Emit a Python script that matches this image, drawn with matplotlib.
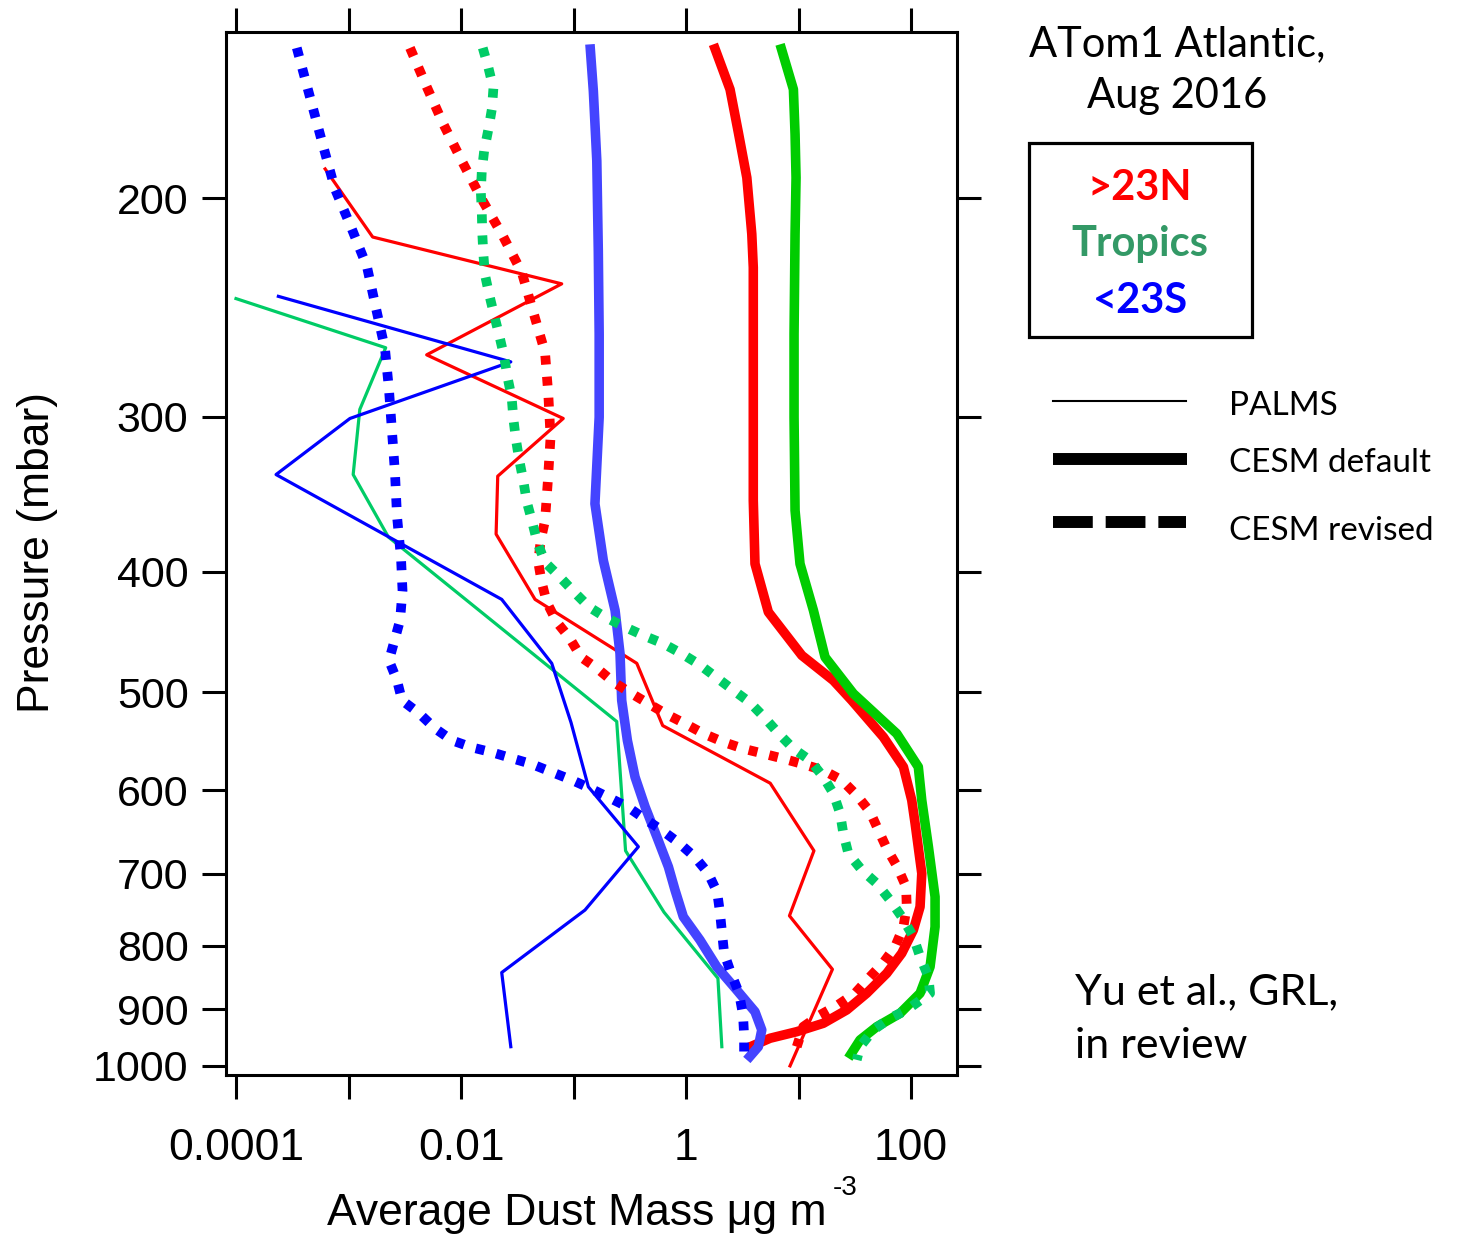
import matplotlib
matplotlib.use("Agg")
import matplotlib.pyplot as plt
from matplotlib.patches import Rectangle
from matplotlib.lines import Line2D
from matplotlib.ticker import FixedLocator, FixedFormatter, NullLocator

# ---------------- PALMS observations (mass in ug m-3, pressure in mbar) -------------
palms_n_p = [189.5, 215, 234.5, 267.5, 301, 335, 373, 421, 474, 532, 592, 671, 757, 836, 1000]
palms_n_m = [6.2e-4, 1.64e-3, 0.0785, 4.95e-3, 0.081, 0.0212, 0.0205, 0.0455, 0.365,
             0.62, 5.6, 13.7, 8.3, 20.0, 8.4]

palms_t_p = [241, 264, 296, 334, 375, 528, 671, 752, 850, 965]
palms_t_m = [1.0e-4, 2.14e-3, 1.26e-3, 1.10e-3, 2.26e-3, 0.242, 0.29, 0.637, 1.92, 2.08]

palms_s_p = [240, 271, 301, 334, 421, 474, 529, 596, 666, 749, 841, 965]
palms_s_m = [2.38e-4, 0.0277, 1.03e-3, 2.27e-4, 0.023, 0.064, 0.095, 0.1355, 0.377,
             0.1264, 0.023, 0.0277]

# ---------------- CESM default --------------------------------------------------------
def_n_p = [150.4, 163.5, 177.2, 192.6, 213.8, 227.5, 300.3, 350.5, 394.1, 431, 467.1,
           489.3, 507.7, 543.4, 574.4, 611, 637.8, 699.8, 744.5, 777.3, 811.6, 842.2,
           874, 901.4, 924, 938.5, 950, 967.8]
def_n_m = [1.75, 2.46, 2.92, 3.47, 3.84, 3.96, 3.96, 3.96, 4.10, 5.39, 10.7, 20.4, 29.7,
           56.7, 85.5, 101.4, 108.6, 124.5, 120.2, 104.8, 82.6, 60.8, 40.3, 26.8, 16.6,
           9.64, 5.58, 3.47]

def_t_p = [150.4, 163.5, 177.7, 192.6, 213.8, 257.4, 300.3, 357, 394.1, 429.6, 468.6,
           501.4, 540, 574.4, 611, 666, 730.8, 772.6, 832.1, 874, 907.1, 930, 953, 985.8]
def_t_m = [6.85, 9.0, 9.31, 9.5, 9.31, 9.12, 9.12, 9.31, 10.3, 13.55, 17.2, 30.7, 74.6,
           116, 124.5, 142.6, 163.4, 163.4, 147.5, 120.2, 79.8, 49.5, 35.2, 27.7]

def_s_p = [150.4, 164, 186.7, 220.6, 257.4, 300.3, 352.6, 391.7, 429.6, 465.6, 507.7,
           546.8, 585.2, 618.6, 653.8, 691.3, 721.7, 758.4, 791.8, 832.1, 868.7, 904.4,
           935.5, 965, 989]
def_s_m = [0.140, 0.150, 0.161, 0.166, 0.169, 0.169, 0.155, 0.184, 0.234, 0.259, 0.268,
           0.301, 0.352, 0.433, 0.55, 0.697, 0.798, 0.946, 1.33, 1.875, 2.82, 4.10, 4.71,
           4.39, 3.47]

# ---------------- CESM revised --------------------------------------------------------
rev_n_p = [151.4, 162.7, 174.4, 187.3, 200.4, 214.5, 229.6, 247.3, 266.3, 288.1, 311.4,
           336.7, 363.7, 377.5, 393, 407.8, 423.2, 439.1, 451.9, 468.6, 478.6, 490.7,
           501.4, 510.7, 521, 530.1, 540, 548.5, 555.3, 560.4, 565.7, 571.5, 578, 588.6,
           605.3, 624.3, 645.8, 668.1, 691.3, 717.4, 744.5, 772.6, 801.7, 825.8, 847.6,
           874, 893.3, 910, 930, 965]
rev_n_m = [3.52e-3, 4.95e-3, 6.97e-3, 0.01035, 0.01528, 0.0235, 0.0347, 0.044, 0.0558,
           0.0597, 0.0625, 0.0593, 0.0558, 0.051, 0.0486, 0.0521, 0.0578, 0.071, 0.0918,
           0.1167, 0.163, 0.226, 0.329, 0.462, 0.673, 0.98, 1.43, 2.15, 3.23, 4.86, 7.33,
           11.0, 16.6, 24.2, 32.9, 43.2, 51.2, 60.8, 75.5, 90.3, 91.5, 85.5, 72.1, 56.7,
           43.2, 31.8, 22.3, 15.5, 11.0, 9.64]

rev_t_p = [151.4, 157.0, 163.2, 169.6, 176.1, 182.9, 190.2, 197.6, 205.5, 213.5, 222,
           230.6, 239.5, 248.8, 258.2, 268, 278.4, 289.5, 301.3, 313.2, 325.5, 337.8,
           351.2, 364.9, 378.7, 393, 402.7, 414.6, 427.1, 435, 443.2, 450.1, 457, 465.6,
           475, 486.8, 497.8, 509.3, 523.6, 539.5, 555.3, 567.4, 585.2, 603.4, 626.2,
           649.9, 674.4, 695.5, 712.9, 735.4, 758.4, 787, 816.7, 847.6, 874, 901.4,
           915.4, 935.5, 965, 988.9]
rev_t_m = [0.0156, 0.0175, 0.0194, 0.0188, 0.0175, 0.0161, 0.0153, 0.0150, 0.0153,
           0.01545, 0.0158, 0.01633, 0.01786, 0.01977, 0.0219, 0.0241, 0.0258, 0.0282,
           0.0292, 0.0308, 0.033, 0.0358, 0.0384, 0.043, 0.0476, 0.0558, 0.0733, 0.0995,
           0.138, 0.1905, 0.287, 0.417, 0.628, 0.916, 1.31, 1.875, 2.60, 3.66, 4.93, 6.61,
           9.0, 12.65, 16.6, 20.4, 23.4, 25.0, 27.7, 36.5, 49.5, 65.1, 82.6, 104.8, 120.2,
           142.6, 147.5, 91.6, 65.1, 46.2, 35.2, 32.9]

rev_s_p = [151.4, 169.3, 182.6, 196.7, 211.8, 227.2, 245.1, 264.5, 285.4, 309.1, 333.4,
           361, 390.3, 414.1, 437.7, 471.5, 489.3, 507.7, 520, 534.8, 546.8, 554, 559.1,
           565.3, 571.5, 580, 588.6, 597.5, 607.5, 618.9, 632.8, 645.8, 661.5, 679, 699.3,
           724.4, 751.8, 781.6, 811.2, 841.9, 874, 910, 944.3, 979.8]
rev_s_m = [3.47e-4, 4.83e-4, 6.05e-4, 7.59e-4, 1.07e-3, 1.46e-3, 1.75e-3, 2.11e-3,
           2.29e-3, 2.44e-3, 2.59e-3, 2.70e-3, 2.93e-3, 3.02e-3, 2.87e-3, 2.29e-3,
           2.70e-3, 2.99e-3, 4.24e-3, 5.87e-3, 8.32e-3, 0.01253, 0.0189, 0.0284, 0.0428,
           0.0644, 0.097, 0.140, 0.203, 0.305, 0.433, 0.608, 0.867, 1.20, 1.57, 1.89, 2.00,
           2.09, 2.18, 2.51, 2.96, 3.21, 3.28, 3.28]

# ---------------- axis ticks ----------------------------------------------------------
x_ticks = [1e-4, 1e-3, 1e-2, 1e-1, 1, 10, 100]
x_tick_labels = ["0.0001", "", "0.01", "", "1", "", "100"]
p_ticks = [200, 300, 400, 500, 600, 700, 800, 900, 1000]
p_tick_labels = ["200", "300", "400", "500", "600", "700", "800", "900", "1000"]

RED = "#ff0000"
GREEN_DEF = "#00cc00"
GREEN_OBS = "#00cc66"
BLUE = "#0000ff"
BLUE_DEF = "#4444ff"

W, H = 1460, 1235
def fx(px):
    return px / W
def fy(py):
    return 1 - py / H

fig = plt.figure(figsize=(W / 100, H / 100), dpi=100)
ax = fig.add_axes([fx(226), fy(1075), (957 - 226) / W, (1075 - 32) / H])
ax.set_xscale("log")
ax.set_yscale("log")
ax.set_xlim(8.15e-5, 256)
ax.set_ylim(1017, 147)

thin = 2.3
thick = 6.9
dot_lw = 7.0

# PALMS
ax.plot(palms_n_m, palms_n_p, color=RED, lw=thin, zorder=2)
ax.plot(palms_t_m, palms_t_p, color=GREEN_OBS, lw=thin, zorder=2)
ax.plot(palms_s_m, palms_s_p, color=BLUE, lw=thin, zorder=2)

# CESM default
for m, p, c in [(def_n_m, def_n_p, RED), (def_t_m, def_t_p, GREEN_DEF),
                (def_s_m, def_s_p, BLUE_DEF)]:
    ax.plot(m, p, color=c, lw=thick, solid_capstyle="butt", solid_joinstyle="round",
            zorder=3)

# CESM revised
for m, p, c in [(rev_n_m, rev_n_p, RED), (rev_t_m, rev_t_p, GREEN_OBS),
                (rev_s_m, rev_s_p, BLUE)]:
    ax.plot(m, p, color=c, lw=dot_lw, linestyle=(0, (0.92, 1.25)),
            dash_capstyle="butt", zorder=4)

# axes styling
for s in ax.spines.values():
    s.set_linewidth(2.2)
ax.xaxis.set_major_locator(FixedLocator(x_ticks))
ax.xaxis.set_major_formatter(FixedFormatter(x_tick_labels))
ax.xaxis.set_minor_locator(NullLocator())
ax.yaxis.set_major_locator(FixedLocator(p_ticks))
ax.yaxis.set_major_formatter(FixedFormatter(p_tick_labels))
ax.yaxis.set_minor_locator(NullLocator())
ax.tick_params(axis="both", which="major", direction="out", length=17, width=2.2,
               top=True, right=True, labeltop=False, labelright=False,
               labelsize=31, colors="black")
ax.tick_params(axis="x", pad=21, labelsize=32)
ax.tick_params(axis="y", pad=10)
for lab in ax.get_xticklabels() + ax.get_yticklabels():
    lab.set_fontfamily("Liberation Sans")

# axis titles
fig.text(fx(38), fy(553), "Pressure (mbar)", rotation=90, ha="center", va="center",
         fontsize=32, family="Liberation Sans")
fig.text(fx(327), fy(1225), "Average Dust Mass \u03bcg m", ha="left", va="baseline",
         fontsize=32, family="Liberation Sans")
fig.text(fx(833), fy(1195), "-3", ha="left", va="baseline", fontsize=20,
         family="Liberation Sans")

# title block
fig.text(fx(1177), fy(56), "ATom1 Atlantic,", ha="center", va="baseline",
         fontsize=30, family="Lato")
fig.text(fx(1177), fy(108), "Aug 2016", ha="center", va="baseline",
         fontsize=30, family="Lato")

# region box
fig.patches.append(Rectangle((fx(1029), fy(337)), (1252 - 1029) / W, (337 - 143) / H,
                             transform=fig.transFigure, fill=False, lw=2.3,
                             edgecolor="black"))
fig.text(fx(1140), fy(200), ">23N", ha="center", va="baseline", fontsize=30,
         family="Lato", weight="bold", color=RED)
fig.text(fx(1140), fy(256), "Tropics", ha="center", va="baseline", fontsize=30,
         family="Lato", weight="bold", color="#339966")
fig.text(fx(1140), fy(313), "<23S", ha="center", va="baseline", fontsize=30,
         family="Lato", weight="bold", color=BLUE)

# line style key
fig.lines.append(Line2D([fx(1053), fx(1186)], [fy(401), fy(401)],
                        transform=fig.transFigure, color="black", lw=1.5))
fig.lines.append(Line2D([fx(1053), fx(1187)], [fy(459), fy(459)],
                        transform=fig.transFigure, color="black", lw=8.6,
                        solid_capstyle="butt"))
fig.lines.append(Line2D([fx(1053), fx(1186)], [fy(522), fy(522)],
                        transform=fig.transFigure, color="black", lw=8.6,
                        linestyle=(0, (3.33, 1.08)), dash_capstyle="butt"))
fig.text(fx(1229), fy(415), "PALMS", ha="left", va="baseline", fontsize=24,
         family="Lato")
fig.text(fx(1229), fy(472), "CESM default", ha="left", va="baseline", fontsize=24,
         family="Lato")
fig.text(fx(1229), fy(540), "CESM revised", ha="left", va="baseline", fontsize=24,
         family="Lato")

# citation
fig.text(fx(1075), fy(1004), "Yu et al., GRL,", ha="left", va="baseline", fontsize=31,
         family="Lato")
fig.text(fx(1075), fy(1058), "in review", ha="left", va="baseline", fontsize=31,
         family="Lato")

fig.savefig("out.png", dpi=100, facecolor="white")
